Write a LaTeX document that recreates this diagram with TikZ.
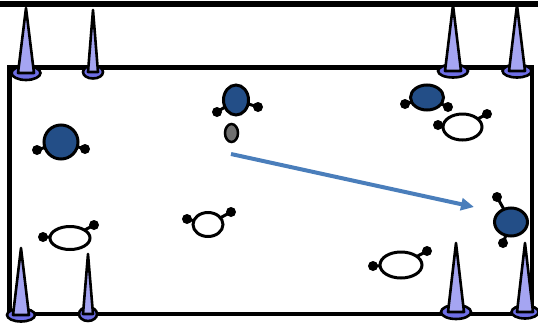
\documentclass[tikz,border=0pt]{standalone}
\usetikzlibrary{arrows.meta}
\definecolor{mdark}{RGB}{35,78,135}
\definecolor{conec}{RGB}{165,165,242}
\definecolor{basec}{RGB}{110,110,230}
\definecolor{arrowc}{RGB}{74,126,187}
\definecolor{grayc}{RGB}{112,112,112}
\newcommand\mycone[6]{%
  \draw[basefill] (#1,#3) ellipse [x radius=#5pt, y radius=#6pt];
  \draw[conefill] (#1,#2) -- (#1-#4,#3) -- (#1+#4,#3) -- cycle;}
\newcommand\mymol[9]{%
  \draw[stick] (#2,#3) -- (#6,#7);
  \draw[stick] (#2,#3) -- (#8,#9);
  \draw[#1] (#2,#3) ellipse [x radius=#4pt, y radius=#5pt];
  \fill (#6,#7) circle [radius=5pt];
  \fill (#8,#9) circle [radius=5pt];}
\begin{document}
\begin{tikzpicture}[x=1pt,y=-1pt,
  outl/.style={line width=3pt},
  dk/.style={outl, fill=mdark},
  wh/.style={outl, fill=white},
  stick/.style={line width=3pt},
  conefill/.style={line width=2.6pt, fill=conec, line join=round},
  basefill/.style={line width=2.6pt, fill=basec}]
\useasboundingbox (0,0) rectangle (538,327);
\draw[line width=6pt] (0,4) -- (538,4);
\draw[line width=4.5pt] (9.5,67.5) rectangle (532,314);
% cones
\mycone{26}{8}{73}{8}{14.5}{7}
\mycone{93}{10}{72}{5}{10}{6.5}
\mycone{453}{5}{71}{8}{15}{6.5}
\mycone{517}{5}{71}{8}{14.5}{6.5}
\mycone{21}{248}{315}{8}{14}{6.5}
\mycone{88}{254}{314}{5}{9}{7}
\mycone{456}{243}{312}{8}{15}{7}
\mycone{525}{243}{312}{8}{13.5}{6.5}
% molecules
\mymol{dk}{61}{142}{17}{17}{37}{150}{85}{149}
\mymol{dk}{236}{100}{12.5}{15}{217}{112}{258}{107}
\draw[line width=2.5pt, fill=grayc] (231.5,133) ellipse [x radius=6.5pt, y radius=9pt];
\mymol{dk}{427}{97.5}{16.5}{12.5}{405}{104}{448}{107}
\mymol{wh}{462.5}{127}{19.5}{13}{438}{125}{487}{114}
\mymol{dk}{511}{222}{16.5}{14}{497}{197}{503}{243}
\mymol{wh}{70}{238}{20}{11.5}{43}{237}{94}{225}
\mymol{wh}{208}{224.5}{15}{12}{187}{219}{231}{212}
\mymol{wh}{401}{265}{21}{13}{373}{266}{427}{251}
% arrow
\coordinate (a) at (231,154);
\coordinate (b) at (474,207);
\draw[arrowc, line width=4pt, -{Triangle[length=13pt,width=12pt]}] (a) -- (b);
\end{tikzpicture}
\end{document}
